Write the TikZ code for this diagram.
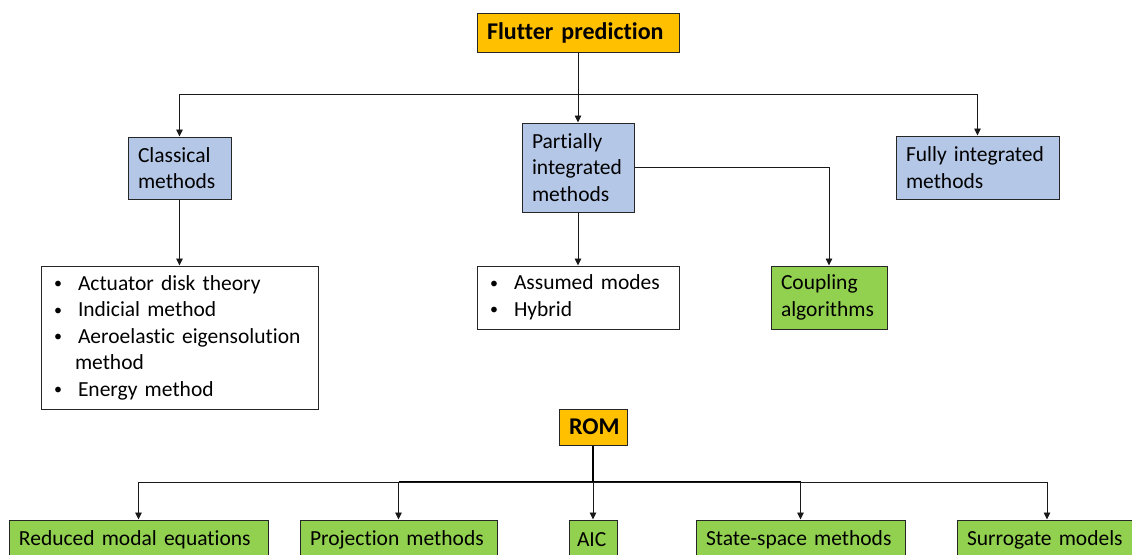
\documentclass[tikz,border=0pt]{standalone}
\usepackage{fontspec}
\setmainfont{Carlito}[Ligatures=NoCommon]
\usetikzlibrary{arrows.meta}
\definecolor{orangebox}{HTML}{FFC000}
\definecolor{bluebox}{HTML}{B4C7E7}
\definecolor{greenbox}{HTML}{92D050}
\newcommand{\bul}{\makebox[24pt][l]{\raisebox{1.5pt}{\fontsize{16}{16}\selectfont\textbullet}}}
\begin{document}
\begin{tikzpicture}[x=1pt,y=-1pt,
  base/.style={draw=black!85, line width=1pt, rectangle, inner sep=0pt,
    font=\fontsize{21.5}{26.5}\selectfont, anchor=center},
  boldtext/.style={font=\fontsize{24}{28}\selectfont\bfseries},
  boxed/.style n args={2}{base, minimum width=#1, minimum height=#2,
    text width=#1-20pt, align=left},
  listbox/.style n args={2}{base, fill=white, minimum width=#1, minimum height=#2,
    text width=#1-26pt, align=left},
  arr/.style={line width=0.9pt, draw=black!90, -{Triangle[length=7pt,width=6.5pt]}},
  thickln/.style={line width=1.6pt, draw=black},
]
\useasboundingbox (0,0) rectangle (1132,554);
\clip (0,0) rectangle (1132,554);

% top tree
\node[boxed={202pt}{39pt}, fill=orangebox, boldtext] (flutter) at (578,32.5) {Flutter prediction};
\node[boxed={103pt}{62pt}, fill=bluebox] (classical) at (179.5,168) {Classical\\methods};
\node[boxed={112pt}{89pt}, fill=bluebox] (partial) at (578,167.5) {Partially\\integrated\\methods};
\node[boxed={163pt}{63pt}, fill=bluebox] (fully) at (977.5,167.5) {Fully integrated\\methods};

\node[listbox={277pt}{143pt}] (list1) at (179.5,337.5) {\bul Actuator disk theory\\\bul Indicial method\\\bul Aeroelastic eigensolution\\\hspace*{21pt}method\\\bul Energy method};
\node[listbox={202pt}{63pt}] (list2) at (578,297.5) {\bul Assumed modes\\\bul Hybrid};
\node[boxed={116pt}{63pt}, fill=greenbox] (coupling) at (829,297.5) {Coupling\\algorithms};

\coordinate (j1) at (578,94);
\draw[arr] (flutter) -- (partial);
\draw[arr] (j1) -| (classical);
\draw[arr] (j1) -| (fully);
\draw[arr] (classical) -- (list1);
\draw[arr] (partial) -- (list2);
\draw[arr] (partial.east) -| (coupling.north);

% ROM tree
\node[boxed={68pt}{36pt}, fill=orangebox, boldtext] (rom) at (593,427) {ROM};
\node[boxed={259pt}{40pt}, fill=greenbox] (reduced) at (138.5,540) {Reduced modal equations};
\node[boxed={197pt}{40pt}, fill=greenbox] (projection) at (398.5,540) {Projection methods};
\node[boxed={48pt}{40pt}, fill=greenbox, text width=32pt] (aic) at (593,540) {AIC};
\node[boxed={209pt}{40pt}, fill=greenbox] (state) at (800.5,540) {State-space methods};
\node[boxed={180pt}{40pt}, fill=greenbox] (surrogate) at (1047,540) {Surrogate models};

\coordinate (j2) at (593,482);
\coordinate (j2l) at (398.5,482);
\coordinate (j2r) at (800.5,482);
\draw[thickln] (rom) -- (j2);
\draw[thickln] (j2l) -- (j2r);
\draw[arr] (j2) -- (aic);
\draw[arr] (j2) -| (reduced);
\draw[arr] (j2) -| (projection);
\draw[arr] (j2) -| (state);
\draw[arr] (j2) -| (surrogate);
\end{tikzpicture}
\end{document}
